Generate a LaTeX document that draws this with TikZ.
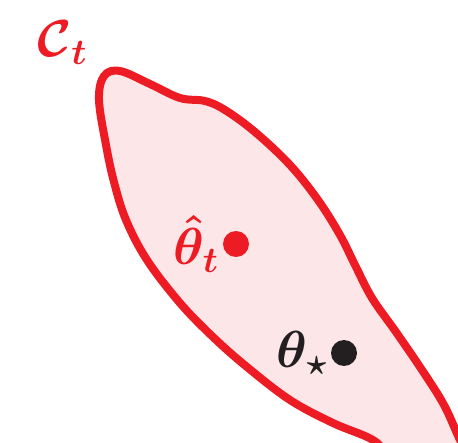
\documentclass[tikz,border=0pt]{standalone}
\usepackage{fix-cm}
\usepackage{amsmath,bm}
\usetikzlibrary{positioning}
\definecolor{setred}{RGB}{237,28,36}
\definecolor{setfill}{RGB}{252,230,232}
\definecolor{ink}{RGB}{35,31,32}
\begin{document}
\begin{tikzpicture}[x=1pt,y=-1pt,
  dot/.style={circle,inner sep=0pt,minimum size=26pt},
  lbl/.style={inner sep=0pt,font=\fontsize{52}{62}\selectfont}]
  \useasboundingbox (0,0) rectangle (458,443);
  % confidence set, runs off the lower right corner
  \begin{scope}
    \clip (0,0) rectangle (458,443);
    \draw[setred,line width=8pt,fill=setfill,line join=round]
      plot[smooth cycle,tension=0.6] coordinates {
        (99,100) (104,76) (120,71) (150,84) (180,98) (205,101) (225,110)
        (255,132) (290,165) (318,200) (340,235) (355,265) (372,298)
        (396,332) (422,370) (444,405) (460,440) (480,480)
        (400,462) (373,440) (333,423) (290,400) (247,367) (213,337)
        (180,303) (147,260) (126,220) (114,182) (106,145)};
  \end{scope}
  \node[dot,fill=setred] (hatdot) at (236,244) {};
  \node[dot,fill=ink] (stardot) at (344,353) {};
  \node[lbl,text=setred,left=4pt of hatdot] (hatlbl) {$\bm{\hat{\theta}_t}$};
  \node[lbl,text=ink,left=3pt of stardot] (starlbl) {$\bm{\theta_\star}$};
  \node[lbl,text=setred] (setlbl) at (62,43) {$\bm{\mathcal{C}_t}$};
\end{tikzpicture}
\end{document}
